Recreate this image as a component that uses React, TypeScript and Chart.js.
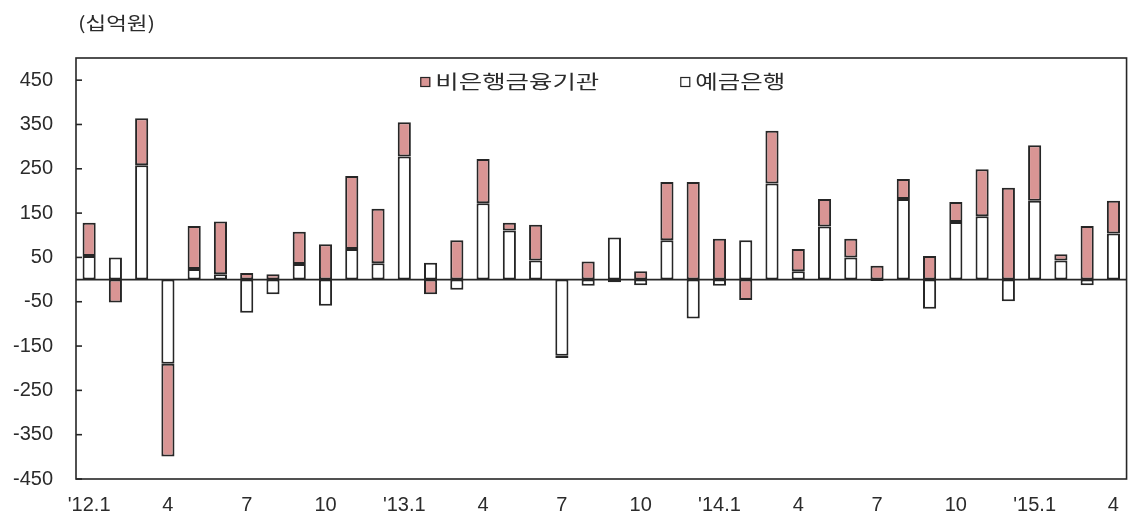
import React, { useEffect, useRef } from 'react';
import { Chart, registerables } from 'chart.js';

Chart.register(...registerables);

// ---- data ----
const categories = [
  "'12.1", '2', '3', '4', '5', '6', '7', '8', '9', '10', '11', '12',
  "'13.1", '2', '3', '4', '5', '6', '7', '8', '9', '10', '11', '12',
  "'14.1", '2', '3', '4', '5', '6', '7', '8', '9', '10', '11', '12',
  "'15.1", '2', '3', '4',
];
const xTickLabels = ["'12.1", '4', '7', '10', "'13.1", '4', '7', '10', "'14.1", '4', '7', '10', "'15.1", '4'];
const yTickValues = [-450, -350, -250, -150, -50, 50, 150, 250, 350, 450];

const bankName = '예금은행';
const nonBankName = '비은행금융기관';
const unitLabel = '(십억원)';

const bankValues = [
  53, 50, 258, -190, 24, 12, -75, -33, 35, -59, 69, 37,
  278, 38, -23, 172, 111, 43, -172, -14, 95, -13, 89, -88,
  -14, 89, 217, 19, 120, 50, -3, 182, -66, 130, 143, -49,
  178, 43, -13, 104,
];
const nonBankValues = [
  75, -52, 106, -209, 97, 119, 15, 12, 73, 80, 165, 123,
  77, -33, 89, 100, 17, 81, -5, 41, -6, 19, 131, 220,
  92, -46, 119, 50, 62, 42, 31, 45, 53, 45, 106, 207,
  125, 14, 121, 74,
];

const PINK = '#d99594';
const EDGE = '#262626';
const TEXT = '#2b2b2b';
const KFONT = '"Noto Sans CJK KR", "Noto Sans", sans-serif';
const NFONT = '"Liberation Sans", Arial, sans-serif';

function drawStretched(ctx: CanvasRenderingContext2D, text: string, x: number, y: number, targetWidth: number) {
  const w = ctx.measureText(text).width;
  const sx = w > 0 ? targetWidth / w : 1;
  ctx.save();
  ctx.translate(x, y);
  ctx.scale(sx, 1);
  ctx.fillText(text, 0, 0);
  ctx.restore();
}

const framePlugin = {
  id: 'frameAndLegend',
  afterDatasetsDraw(chart: any) {
    const { ctx, chartArea: a, scales } = chart;
    const ys = scales.y;
    ctx.save();
    ctx.strokeStyle = EDGE;
    ctx.lineWidth = 1.6;
    // zero line
    const y0 = ys.getPixelForValue(0);
    ctx.beginPath();
    ctx.moveTo(a.left, y0);
    ctx.lineTo(a.right, y0);
    ctx.stroke();
    // frame
    ctx.strokeRect(a.left, a.top, a.right - a.left, a.bottom - a.top);
    // inward tick marks
    ys.ticks.forEach((t: any) => {
      const py = ys.getPixelForValue(t.value);
      ctx.beginPath();
      ctx.moveTo(a.left, py);
      ctx.lineTo(a.left + 6, py);
      ctx.stroke();
    });

    // legend (pink series first, then white)
    ctx.font = `19px ${KFONT}`;
    ctx.textBaseline = 'alphabetic';
    const ds = chart.data.datasets;
    const cx = (a.left + a.right) / 2;
    const items = [
      { d: ds[1], x: cx - 181, w: 164 },
      { d: ds[0], x: cx + 79, w: 90 },
    ];
    const box = 10;
    const legendY = a.top + 19;
    items.forEach(({ d, x, w }) => {
      ctx.fillStyle = d.backgroundColor;
      ctx.fillRect(x, legendY, box, box);
      ctx.lineWidth = 1.2;
      ctx.strokeStyle = EDGE;
      ctx.strokeRect(x + 0.5, legendY + 0.5, box - 1, box - 1);
      ctx.fillStyle = TEXT;
      drawStretched(ctx, d.label, x + box + 5, legendY + 12, w);
    });

    // unit label
    ctx.font = `18px ${KFONT}`;
    ctx.fillStyle = TEXT;
    drawStretched(ctx, unitLabel, a.left + 2, 30, 77);
    ctx.restore();
  },
};

export default function App() {
  const ref = useRef<HTMLCanvasElement | null>(null);
  useEffect(() => {
    if (!ref.current) return;
    const chart = new Chart(ref.current, {
      type: 'bar',
      data: {
        labels: categories,
        datasets: [
          {
            label: bankName,
            data: bankValues,
            backgroundColor: '#ffffff',
            borderColor: EDGE,
            borderWidth: 2,
            borderSkipped: false,
            categoryPercentage: 1,
            barPercentage: 0.5,
          },
          {
            label: nonBankName,
            data: nonBankValues,
            backgroundColor: PINK,
            borderColor: EDGE,
            borderWidth: 2,
            borderSkipped: false,
            categoryPercentage: 1,
            barPercentage: 0.5,
          },
        ],
      },
      options: {
        responsive: false,
        animation: false,
        devicePixelRatio: 1,
        layout: { padding: { top: 58, right: 1, left: 0, bottom: 0 } },
        plugins: {
          legend: { display: false },
          title: { display: false },
          tooltip: { enabled: false },
        },
        scales: {
          x: {
            stacked: true,
            grid: { display: false, drawTicks: false },
            border: { display: false },
            ticks: {
              autoSkip: false,
              maxRotation: 0,
              minRotation: 0,
              padding: 14,
              color: TEXT,
              font: { family: NFONT, size: 20 },
              callback: (_v: any, i: number) => (i % 3 === 0 ? xTickLabels[i / 3] : ''),
            },
            afterFit: (s: any) => {
              s.height = 42;
            },
          },
          y: {
            stacked: true,
            min: -450,
            max: 500,
            grid: { display: false, drawTicks: false },
            border: { display: false },
            afterBuildTicks: (s: any) => {
              s.ticks = yTickValues.map((v) => ({ value: v }));
            },
            ticks: {
              padding: 23,
              color: TEXT,
              font: { family: NFONT, size: 20 },
            },
            afterFit: (s: any) => {
              s.width = 76;
            },
          },
        },
      },
      plugins: [framePlugin],
    });
    return () => chart.destroy();
  }, []);
  return (
    <div style={{ position: 'absolute', left: 0, top: 0, width: 1133, height: 521, background: '#fff' }}>
      <canvas ref={ref} width={1133} height={521} style={{ display: 'block' }} />
    </div>
  );
}
